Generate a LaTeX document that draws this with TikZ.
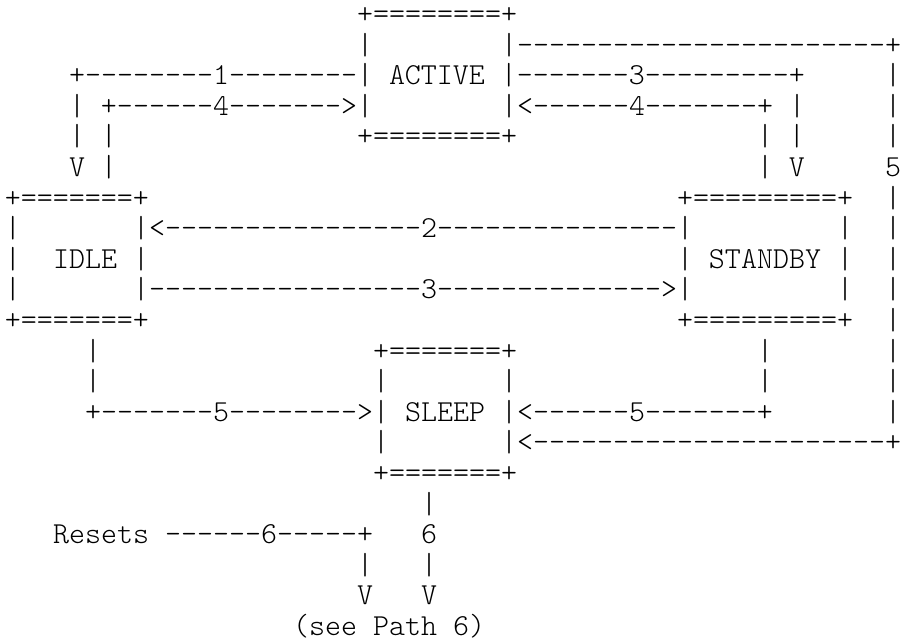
\documentclass[tikz,border=0pt]{standalone}
\newcommand\Seg[3]{\node[txt] (n#1x#2) at ({5+16*#2},{-(23.5+30.6*#1)}) {#3};}
\begin{document}
\begin{tikzpicture}[x=1pt,y=1pt,
  txt/.style={anchor=base west, inner sep=0pt, outer sep=0pt,
    font=\fontseries{l}\ttfamily\fontsize{30.476pt}{31pt}\selectfont}]
\path[use as bounding box] (0,0) rectangle (901,-643);
\Seg{0}{22}{+========+}
\Seg{1}{22}{|}
\Seg{1}{31}{|-----------------------+}
\Seg{2}{4}{+--------1--------| ACTIVE |-------3---------+}
\Seg{2}{55}{|}
\Seg{3}{4}{| +------4------->|}
\Seg{3}{31}{|<------4-------+ |}
\Seg{3}{55}{|}
\Seg{4}{4}{| |}
\Seg{4}{22}{+========+}
\Seg{4}{47}{| |}
\Seg{4}{55}{|}
\Seg{5}{4}{V |}
\Seg{5}{47}{| V}
\Seg{5}{55}{5}
\Seg{6}{0}{+=======+}
\Seg{6}{42}{+=========+}
\Seg{6}{55}{|}
\Seg{7}{0}{|}
\Seg{7}{8}{|<----------------2---------------|}
\Seg{7}{52}{|}
\Seg{7}{55}{|}
\Seg{8}{0}{|}
\Seg{8}{3}{IDLE |}
\Seg{8}{42}{| STANDBY |}
\Seg{8}{55}{|}
\Seg{9}{0}{|}
\Seg{9}{8}{|-----------------3-------------->|}
\Seg{9}{52}{|}
\Seg{9}{55}{|}
\Seg{10}{0}{+=======+}
\Seg{10}{42}{+=========+}
\Seg{10}{55}{|}
\Seg{11}{5}{|}
\Seg{11}{23}{+=======+}
\Seg{11}{47}{|}
\Seg{11}{55}{|}
\Seg{12}{5}{|}
\Seg{12}{23}{|}
\Seg{12}{31}{|}
\Seg{12}{47}{|}
\Seg{12}{55}{|}
\Seg{13}{5}{+-------5-------->| SLEEP |<------5-------+}
\Seg{13}{55}{|}
\Seg{14}{23}{|}
\Seg{14}{31}{|<----------------------+}
\Seg{15}{23}{+=======+}
\Seg{16}{26}{|}
\Seg{17}{3}{Resets ------6-----+}
\Seg{17}{26}{6}
\Seg{18}{22}{|}
\Seg{18}{26}{|}
\Seg{19}{22}{V}
\Seg{19}{26}{V}
\Seg{20}{18}{(see Path 6)}
\end{tikzpicture}
\end{document}
